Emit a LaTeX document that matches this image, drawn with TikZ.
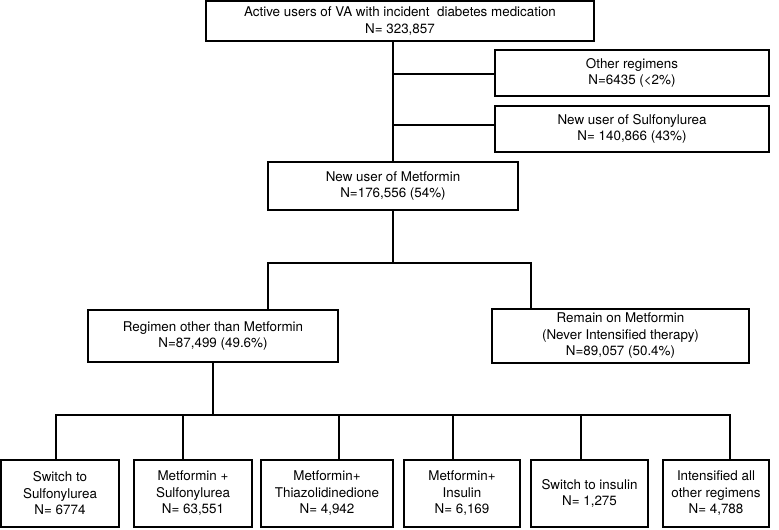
\documentclass[tikz,border=0pt]{standalone}
\usepackage{fontspec}
\setmainfont{TeX Gyre Heros}
\begin{document}
\begin{tikzpicture}[x=1pt,y=-1pt,
  box/.style={draw=black, line width=1.1pt, inner sep=0pt, align=center, fill=white,
              font=\fontsize{13.4}{16.5}\selectfont},
  conn/.style={draw=black, line width=2.8pt}]
\useasboundingbox (0,0) rectangle (779,530);
% boxes
\node[box, minimum width=388pt, minimum height=40pt] (top) at (400,21)
  {Active users of VA with incident\ \ diabetes medication\\N= 323,857};
\node[box, minimum width=274pt, minimum height=46pt] (oth) at (632,73)
  {Other regimens\\N=6435 (<2\%)};
\node[box, minimum width=274pt, minimum height=46pt] (sul) at (632,129)
  {New user of Sulfonylurea\\N= 140,866 (43\%)};
\node[box, minimum width=250pt, minimum height=48pt] (met) at (393,186)
  {New user of Metformin\\N=176,556 (54\%)};
\node[box, minimum width=250pt, minimum height=52pt] (reg) at (213,336)
  {Regimen other than Metformin\\N=87,499 (49.6\%)};
\node[box, minimum width=257pt, minimum height=54pt] (rem) at (620.5,336)
  {Remain on Metformin\\(Never Intensified therapy)\\N=89,057 (50.4\%)};
\node[box, minimum width=118pt, minimum height=67pt] (b1) at (60,493.5)
  {Switch to\\Sulfonylurea\\N= 6774};
\node[box, minimum width=118pt, minimum height=67pt] (b2) at (193,493.5)
  {Metformin +\\Sulfonylurea\\N= 63,551};
\node[box, minimum width=132pt, minimum height=67pt] (b3) at (327,493.5)
  {Metformin+\\Thiazolidinedione\\N= 4,942};
\node[box, minimum width=116pt, minimum height=67pt] (b4) at (462,493.5)
  {Metformin+\\Insulin\\N= 6,169};
\node[box, minimum width=117pt, minimum height=67pt] (b5) at (589.5,493.5)
  {Switch to insulin\\N= 1,275};
\node[box, minimum width=106pt, minimum height=67pt] (b6) at (716,493.5)
  {Intensified all\\other regimens\\N= 4,788};
% junction coordinates
\coordinate (j1) at (393,74);
\coordinate (j2) at (393,125);
\coordinate (s1) at (393,263);
\coordinate (hl) at (268,263);
\coordinate (hr) at (531,263);
\coordinate (s2) at (213,415);
\coordinate (v1) at (56,415);
\coordinate (v2) at (183,415);
\coordinate (v3) at (339,415);
\coordinate (v4) at (453,415);
\coordinate (v5) at (581,415);
\coordinate (v6) at (730,415);
% connectors
\draw[conn] (top.south -| met) -- (met.north);
\draw[conn] (j1) -- (j1 -| oth.west);
\draw[conn] (j2) -- (j2 -| sul.west);
\draw[conn] (met.south) -- (s1);
\draw[conn] (hl |- reg.north) -- (hl) -- (hr) -- (hr |- rem.north);
\draw[conn] (reg.south) -- (s2);
\draw[conn] (v1 |- b1.north) -- (v1) -- (v6) -- (v6 |- b6.north);
\draw[conn] (v2) -- (v2 |- b2.north);
\draw[conn] (v3) -- (v3 |- b3.north);
\draw[conn] (v4) -- (v4 |- b4.north);
\draw[conn] (v5) -- (v5 |- b5.north);
\end{tikzpicture}
\end{document}
